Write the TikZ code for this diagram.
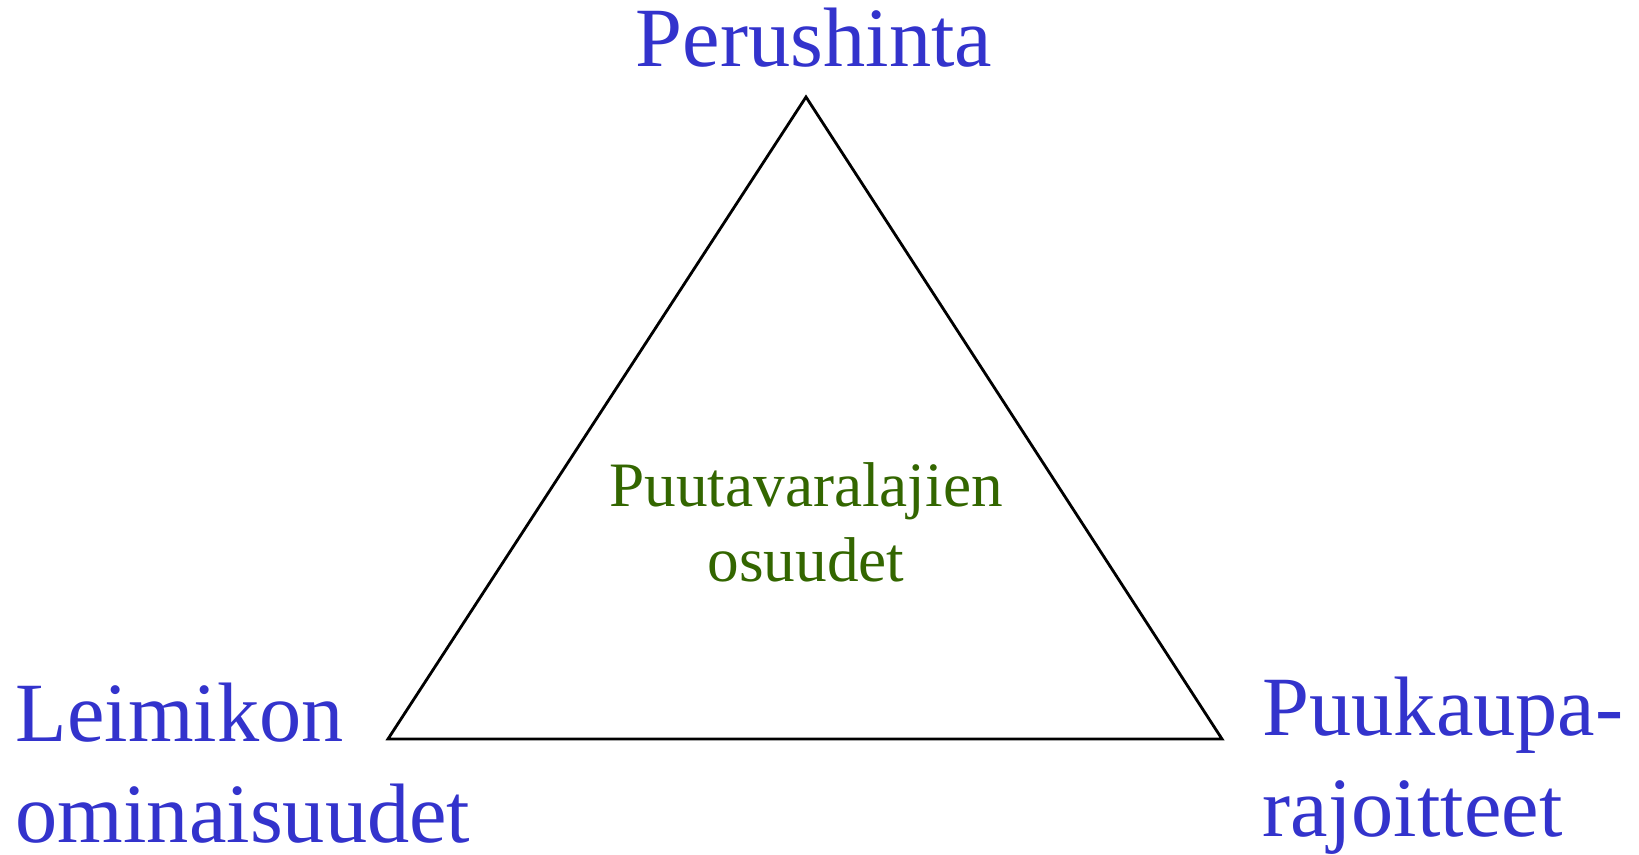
\documentclass[tikz,border=0pt]{standalone}
\usepackage{fontspec}
\setmainfont{Liberation Serif}
\usepackage{xcolor}
\definecolor{labelblue}{HTML}{3333CC}
\definecolor{innergreen}{HTML}{336600}

\begin{document}
\begin{tikzpicture}[inner sep=0pt,
  corner/.style={labelblue, font=\fontsize{24}{28.8}\selectfont},
  share/.style={innergreen, font=\fontsize{18}{21.5}\selectfont}]
\useasboundingbox (0,0) rectangle (16.39,8.55);

\coordinate (apex) at (8.06,7.58);
\coordinate (bl) at (3.88,1.16);
\coordinate (br) at (12.22,1.16);
\draw[line width=0.8pt, line join=miter] (apex) -- (bl) -- (br) -- cycle;

\node[corner, anchor=base] (perus) at (8.14,7.88) {Perushinta};
\node[corner, anchor=base west, align=left] (leimikon) at (0.15,0.12)
  {Leimikon\\ominaisuudet};
\node[corner, anchor=base west, align=left] (puukaupa) at (12.62,0.18)
  {Puukaupa-\\rajoitteet};
\node[share, anchor=base, align=center] (osuudet) at (8.06,2.73)
  {Puutavaralajien\\osuudet};
\end{tikzpicture}
\end{document}
